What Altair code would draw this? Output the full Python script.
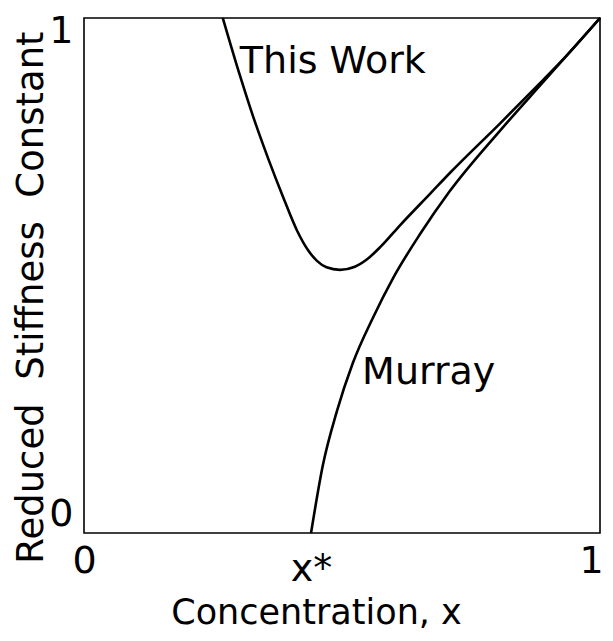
import altair as alt
import pandas as pd

# ---- data ----
this_work_x = [0.269, 0.302, 0.328, 0.357, 0.386, 0.413, 0.435, 0.452, 0.470, 0.496,
               0.525, 0.548, 0.575, 0.612, 0.671, 0.709, 0.806, 0.890, 0.928, 1.0]
this_work_y = [1.000, 0.889, 0.808, 0.727, 0.652, 0.587, 0.548, 0.528, 0.516, 0.511,
               0.517, 0.531, 0.556, 0.597, 0.659, 0.699, 0.795, 0.880, 0.919, 1.0]

murray_x = [0.440, 0.463, 0.490, 0.521, 0.560, 0.599, 0.651, 0.709, 0.806, 0.890, 1.0]
murray_y = [0.000, 0.132, 0.236, 0.330, 0.418, 0.495, 0.580, 0.664, 0.781, 0.876, 1.0]

label_text = ["This Work", "Murray"]
label_x = [0.302, 0.539]
label_y = [0.894, 0.290]

x_tick_values = [0, 0.44, 1]
x_tick_labels = ["0", "x*", "1"]
y_tick_values = [0, 1]

FONT = "DejaVu Sans"
NBSP = "\u00a0"

lines = pd.DataFrame({
    "x": this_work_x + murray_x,
    "y": this_work_y + murray_y,
    "series": ["This Work"] * len(this_work_x) + ["Murray"] * len(murray_x),
})
labels = pd.DataFrame({"x": label_x, "y": label_y, "text": label_text})

xscale = alt.Scale(domain=[0, 1], nice=False, zero=False)
yscale = alt.Scale(domain=[0, 1], nice=False, zero=False)

label_expr = ("datum.value < 0.2 ? '%s' : (datum.value > 0.8 ? '%s' : '%s')"
              % (x_tick_labels[0], x_tick_labels[2], x_tick_labels[1]))

x_axis = alt.Axis(
    values=x_tick_values, labelExpr=label_expr,
    title="Concentration, x",
    domain=False, ticks=False, grid=False,
    labelFont=FONT, labelFontSize=38, labelColor="black",
    labelBaseline="top", labelFlush=False, labelOverlap=False,
    labelPadding={"condition": {"test": "abs(datum.value - 0.44) < 0.01", "value": 17}, "value": 9},
    labelOffset={"condition": {"test": "datum.value > 0.8", "value": -9}, "value": 0},
    titleFont=FONT, titleFontSize=35, titleFontWeight="normal", titleColor="black",
    titleX=232, titleY=90, titleBaseline="alphabetic", titleAlign="center",
)
y_axis = alt.Axis(
    values=y_tick_values, format="d",
    title="Reduced" + NBSP * 2 + "Stiffness" + NBSP * 2 + "Constant",
    domain=False, ticks=False, grid=False,
    labelFont=FONT, labelFontSize=38, labelColor="black", labelPadding=11,
    labelFlush=False, labelOverlap=False,
    labelBaseline={"condition": {"test": "datum.value > 0.5", "value": "middle"}, "value": "bottom"},
    labelOffset={"condition": {"test": "datum.value > 0.5", "value": 13}, "value": 0},
    titleFont=FONT, titleFontSize=37, titleFontWeight="normal", titleColor="black",
    titleX=-53, titleY=279, titleBaseline="middle", titleAlign="center", titleAngle=270,
)

line_layer = alt.Chart(lines).mark_line(
    interpolate="monotone", color="black", strokeWidth=2.6
).encode(
    x=alt.X("x:Q", scale=xscale, axis=x_axis),
    y=alt.Y("y:Q", scale=yscale, axis=y_axis),
    detail="series:N",
)

text_layer = alt.Chart(labels).mark_text(
    align="left", baseline="alphabetic", font=FONT, fontSize=38, color="black"
).encode(
    x=alt.X("x:Q", scale=xscale),
    y=alt.Y("y:Q", scale=yscale),
    text="text:N",
)

chart = alt.layer(line_layer, text_layer).properties(
    width=516, height=515,
    autosize=alt.AutoSizeParams(type="none"),
    padding={"left": 76, "top": 10, "right": 5, "bottom": 100},
    background="white",
).configure_view(stroke="black", strokeWidth=1.6)

chart.save("out.html", embed_options={"renderer": "svg", "actions": False})
